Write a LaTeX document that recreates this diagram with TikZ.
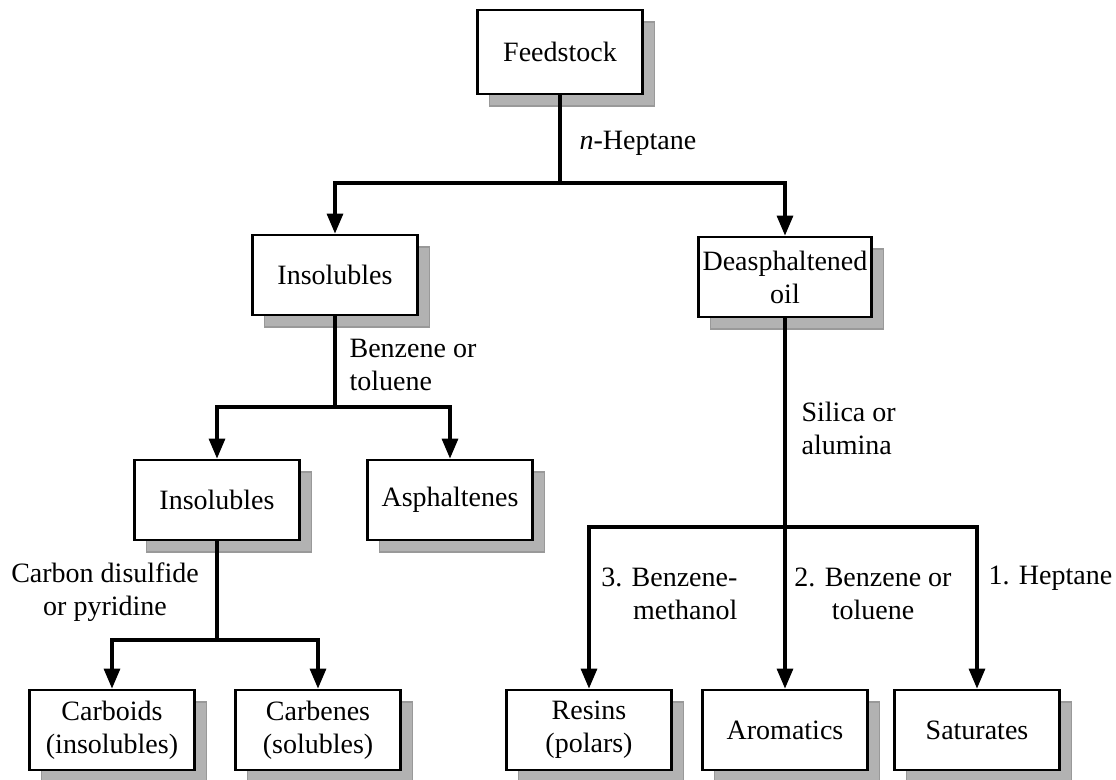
\documentclass[tikz,border=0pt]{standalone}
\usepackage{fontspec}
\setmainfont{Liberation Serif}
\usetikzlibrary{arrows.meta,shadows}

\begin{document}
\begin{tikzpicture}[x=0.5pt,y=-0.5pt,->,>={Triangle[length=10pt,width=8pt]},
        line width=1.6pt,font=\fontsize{14}{16.5}\selectfont]
    \tikzstyle{box}=[draw=black,line width=1.4pt,fill=white,align=center,
        minimum width=82.5pt,minimum height=40pt,inner sep=2pt,
        drop shadow={shadow xshift=6pt,shadow yshift=-6pt,fill=gray!60,
            draw=gray!80,line width=0.6pt,opacity=1}]
    \tikzstyle{lbl}=[inner sep=0pt]
    \useasboundingbox (0,0) rectangle (1116,780);

    % boxes
    \node[box,minimum height=42pt] (feed) at (560,52)  {Feedstock};
    \node[box] (insol)  at (335,275) {Insolubles};
    \node[box] (deoil)  at (785,277) {Deasphaltened\\oil};
    \node[box] (insolb) at (217,500) {Insolubles};
    \node[box] (asph)   at (450,500) {Asphaltenes};
    \node[box] (carb)   at (112,730) {Carboids\\(insolubles)};
    \node[box] (carbn)  at (318,730) {Carbenes\\(solubles)};
    \node[box] (resin)  at (589,730) {Resins\\(polars)};
    \node[box] (arom)   at (785,730) {Aromatics};
    \node[box] (sat)    at (977,730) {Saturates};

    % junctions
    \coordinate (j1) at (560,183);
    \coordinate (j2) at (335,407);
    \coordinate (j3) at (217,640);
    \coordinate (j4) at (785,527);

    % solvents
    \node[lbl,anchor=west] (hept) at (578,143) {\textit{n}-Heptane};
    \node[lbl,anchor=west,align=left] (benz) at (348,365) {Benzene or\\toluene};
    \node[lbl,anchor=west,align=left] (silica) at (800,428) {Silica or\\alumina};
    \node[lbl,align=center] (cs2) at (105,592) {Carbon disulfide\\or pyridine};
    \node[lbl,anchor=east,align=right] (e3) at (739,594) {3. Benzene-\\methanol};
    \node[lbl,align=center] (e2) at (873,594) {2. Benzene or\\toluene};
    \node[lbl,anchor=west] (e1) at (987,578) {1. Heptane};

    % connectors
    \draw[-] (feed) -- (j1);
    \draw (j1) -| (insol);
    \draw (j1) -| (deoil);
    \draw[-] (insol) -- (j2);
    \draw (j2) -| (insolb);
    \draw (j2) -| (asph);
    \draw[-] (insolb) -- (j3);
    \draw (j3) -| (carb);
    \draw (j3) -| (carbn);
    \draw[-] (deoil) -- (j4);
    \draw (j4) -| (resin);
    \draw (j4) -| (arom);
    \draw (j4) -| (sat);
\end{tikzpicture}
\end{document}
